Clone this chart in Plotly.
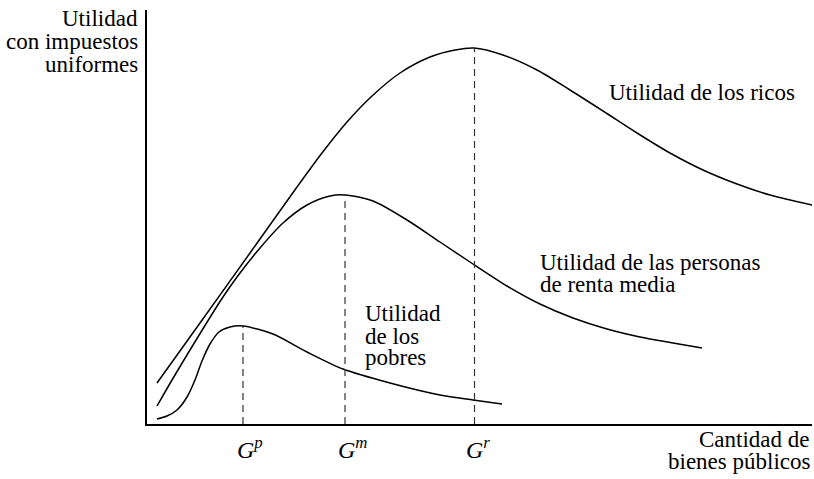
import plotly.graph_objects as go

# --- Data (G = public goods, U = utility) ---
rich_g = [10, 53, 103, 150, 175, 200, 225, 253, 283, 308, 327, 356, 390, 423, 456, 490, 523, 556, 590, 623, 665]
rich_u = [41, 101, 171, 237, 271, 302, 328, 351, 367, 374, 376, 369, 354, 334, 313, 291, 271, 254, 240, 229, 219]

mid_g = [10, 25, 43, 74, 90, 113, 136, 160, 183, 198, 226, 260, 293, 326, 360, 393, 426, 460, 493, 526, 555]
mid_u = [18, 44, 74, 124, 147, 176, 201, 219, 228, 229, 223, 204, 182, 160, 138, 120, 106, 95, 87, 81, 76]

poor_g = [10, 20, 30, 40, 48, 55, 63, 72, 83, 96, 126, 160, 196, 243, 293, 326, 355]
poor_u = [5, 8, 14, 27, 44, 63, 80, 92, 97, 98, 90, 72, 55, 41, 29, 24, 20]

opt_g = [96, 198, 327.5]        # G^p, G^m, G^r
opt_u = [98, 229, 376]          # peak utilities
opt_labels = ["<i>G</i><sup><i>p</i></sup>", "<i>G</i><sup><i>m</i></sup>", "<i>G</i><sup><i>r</i></sup>"]

curve_names = ["Utilidad de los ricos", "Utilidad de las personas de renta media", "Utilidad de los pobres"]

X_MAX, Y_MAX = 665, 414
FONT = "Liberation Serif"
fig = go.Figure()

for g, u, name in [(rich_g, rich_u, curve_names[0]), (mid_g, mid_u, curve_names[1]), (poor_g, poor_u, curve_names[2])]:
    fig.add_trace(go.Scatter(x=g, y=u, mode="lines", name=name,
                             line=dict(color="black", width=1.5, shape="spline", smoothing=0.8),
                             hoverinfo="skip", showlegend=False))

for g, u in zip(opt_g, opt_u):
    fig.add_trace(go.Scatter(x=[g, g], y=[0, u], mode="lines",
                             line=dict(color="#333333", width=1.2, dash="7px,5px"),
                             hoverinfo="skip", showlegend=False))

ann = []
def txt(x, y, s, xa="left", size=23):
    ann.append(dict(x=x / X_MAX, y=y / Y_MAX, xref="paper", yref="paper", text=s, showarrow=False,
                    xanchor=xa, yanchor="middle", align=xa,
                    font=dict(family=FONT, size=size, color="black")))

# y-axis title (right aligned, left of axis)
txt(-7, 405, "Utilidad", "right")
txt(-7, 383, "con impuestos", "right")
txt(-7, 360, "uniformes", "right")
# x-axis title
txt(665, -15, "Cantidad de", "right")
txt(665, -37, "bienes públicos", "right")
# curve labels
txt(460, 332, "Utilidad de los ricos")
txt(391, 162, "Utilidad de las personas")
txt(391, 140, "de renta media")
txt(216, 110, "Utilidad")
txt(216, 88, "de los")
txt(216, 67, "pobres")
# G labels
for g, lab, dx in zip(opt_g, opt_labels, [7, 7, 3]):
    txt(g + dx, -24, lab, "center", 24)

fig.update_layout(
    width=814, height=479, autosize=False,
    margin=dict(l=147, r=2, t=10, b=55),
    paper_bgcolor="white", plot_bgcolor="white",
    annotations=ann, hovermode=False,
    xaxis=dict(range=[0, X_MAX], showgrid=False, zeroline=False, showticklabels=False, ticks="",
               showline=True, linecolor="black", linewidth=1.5),
    yaxis=dict(range=[0, Y_MAX], showgrid=False, zeroline=False, showticklabels=False, ticks="",
               showline=True, linecolor="black", linewidth=1.5),
)

fig.write_html("out.html", config={"displayModeBar": False, "responsive": False},
               post_script="document.body.style.margin='0';document.body.style.overflow='hidden';")
